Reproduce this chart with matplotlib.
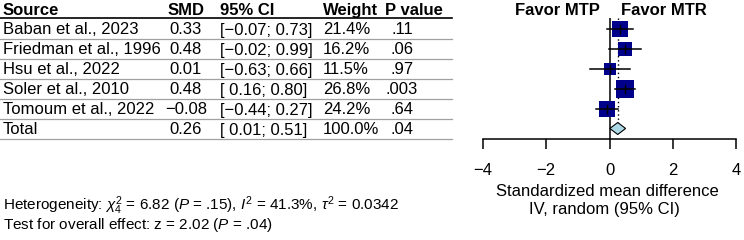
import numpy as np
import matplotlib
matplotlib.use('Agg')
import matplotlib.pyplot as plt
from matplotlib.patches import Polygon

plt.rcParams['font.family'] = ['Liberation Sans', 'DejaVu Sans']
plt.rcParams['mathtext.fontset'] = 'custom'
plt.rcParams['mathtext.rm'] = 'Liberation Sans'
plt.rcParams['mathtext.it'] = 'Liberation Sans:italic'

studies = ['Baban et al., 2023', 'Friedman et al., 1996', 'Hsu et al., 2022',
           'Soler et al., 2010', 'Tomoum et al., 2022']
smd = [0.33, 0.48, 0.01, 0.48, -0.08]
ci_low = [-0.07, -0.02, -0.63, 0.16, -0.44]
ci_high = [0.73, 0.99, 0.66, 0.80, 0.27]
weights = [21.4, 16.2, 11.5, 26.8, 24.2]
p_values = ['.11', '.06', '.97', '.003', '.64']

total_smd = 0.26
total_low = 0.01
total_high = 0.51
total_p = '.04'

xticks = [-4, -2, 0, 2, 4]


def fmt(v):
    s = f'{abs(v):.2f}'
    return ('\u2212' + s) if v < 0 else s


def fmt_ci(lo, hi):
    lo_s = fmt(lo) if lo < 0 else ' ' + fmt(lo)
    return f'[{lo_s}; {fmt(hi)}]'


W, H = 744, 240
fig = plt.figure(figsize=(W / 100, H / 100), dpi=100)

# background axes in pixel coordinates for the table
ax_t = fig.add_axes([0, 0, 1, 1])
ax_t.set_xlim(0, W)
ax_t.set_ylim(H, 0)
ax_t.axis('off')

fs = 12
# header
hy = 15
ax_t.text(3, hy, 'Source', fontsize=fs, fontweight='bold', va='baseline')
ax_t.text(186, hy, 'SMD', fontsize=fs, fontweight='bold', va='baseline', ha='center')
ax_t.text(220, hy, '95% CI', fontsize=fs, fontweight='bold', va='baseline')
ax_t.text(323, hy, 'Weight', fontsize=fs, fontweight='bold', va='baseline')
ax_t.text(385, hy, 'P value', fontsize=fs, fontweight='bold', va='baseline')
ax_t.plot([0, 452], [18, 18], color='black', lw=1.2)

rows = list(zip(studies, smd, ci_low, ci_high, weights, p_values))
rows.append(('Total', total_smd, total_low, total_high, 100.0, total_p))
for i, (name, m, lo, hi, w, p) in enumerate(rows):
    by = 34.5 + 20 * i
    ax_t.text(3, by, name, fontsize=fs, va='baseline')
    ax_t.text(186, by, fmt(m), fontsize=fs, va='baseline', ha='center')
    ax_t.text(220, by, fmt_ci(lo, hi), fontsize=fs, va='baseline')
    ax_t.text(323, by, f'{w:.1f}%', fontsize=fs, va='baseline')
    ax_t.text(402, by, p, fontsize=fs, va='baseline', ha='center')
    ax_t.plot([0, 452], [38.5 + 20 * i] * 2, color='#a0a0a0', lw=0.9)

ax_t.text(3, 210, r'Heterogeneity: $\chi^2_4$ = 6.82 ($P$ = .15), $I^2$ = 41.3%, $\tau^2$ = 0.0342',
          fontsize=11, va='baseline')
ax_t.text(3, 229, r'Test for overall effect: z = 2.02 ($P$ = .04)',
          fontsize=11, va='baseline')

ax_t.text(557, 15, 'Favor MTP', fontsize=fs, fontweight='bold', va='baseline', ha='center')
ax_t.text(664, 15, 'Favor MTR', fontsize=fs, fontweight='bold', va='baseline', ha='center')
ax_t.text(607, 196, 'Standardized mean difference', fontsize=fs, va='baseline', ha='center')
ax_t.text(604, 214, 'IV, random (95% CI)', fontsize=fs, va='baseline', ha='center')

# forest axes
left, right, top, bottom = 483, 736, 18, 139
ax = fig.add_axes([left / W, 1 - bottom / H, (right - left) / W, (bottom - top) / H])
ax.set_xlim(-4, 4)
ax.set_ylim(5.525, -0.525)
ax.patch.set_alpha(0)
for s in ['top', 'right', 'left']:
    ax.spines[s].set_visible(False)
ax.spines['bottom'].set_linewidth(1.1)
ax.set_yticks([])
ax.set_xticks(xticks)
ax.set_xticklabels([fmt(t).replace('.00', '') for t in xticks], fontsize=fs)
ax.tick_params(axis='x', length=7.5, width=1.1, pad=10)

ax.axvline(0, color='black', lw=1.1)
ax.plot([total_smd, total_smd], [-0.525, 5.2], color='black', lw=1, ls=(0, (1, 2)))

y = np.arange(len(studies))
for i in range(len(studies)):
    side_pt = 3.4 * np.sqrt(weights[i]) * 0.72
    ax.plot(smd[i], y[i], marker='s', ms=side_pt, color='#00008b', mew=0, ls='none', zorder=3)
    ax.plot([ci_low[i], ci_high[i]], [y[i], y[i]], color='black', lw=1.1, zorder=4)
    ax.plot([smd[i], smd[i]], [y[i] - 0.2, y[i] + 0.2], color='black', lw=1, zorder=4)

yd = len(studies)
diamond = Polygon([[total_low, yd], [total_smd, yd - 0.3], [total_high, yd], [total_smd, yd + 0.3]],
                  closed=True, facecolor='#add8e6', edgecolor='black', lw=0.8, zorder=3)
ax.add_patch(diamond)

fig.savefig('out.png', dpi=100)
